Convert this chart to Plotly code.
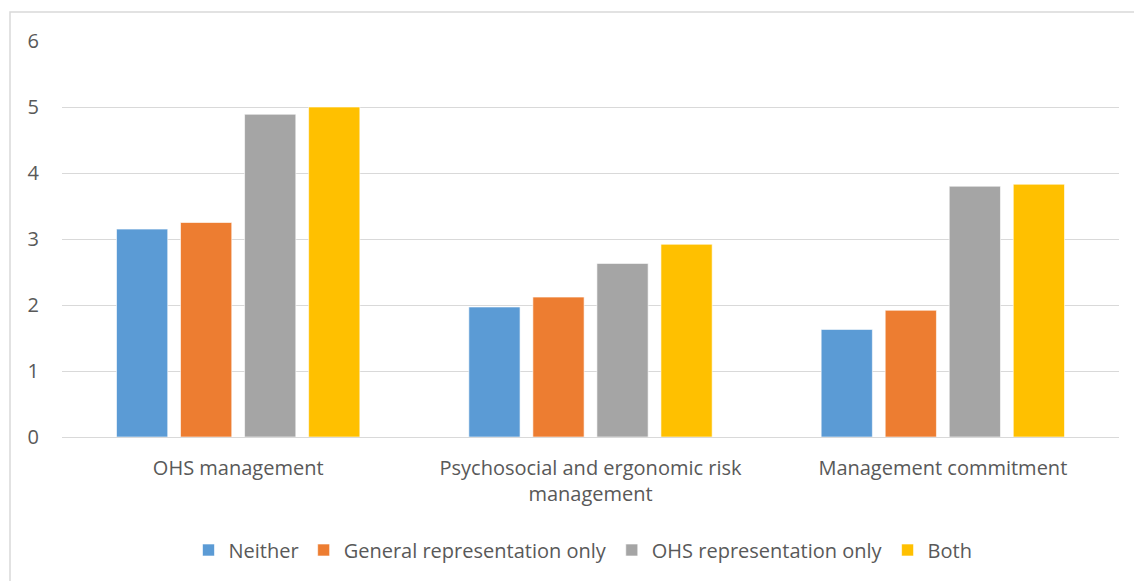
import plotly.graph_objects as go

categories = ["OHS management", "Psychosocial and ergonomic risk<br>management", "Management commitment"]
series_names = ["Neither", "General representation only", "OHS representation only", "Both"]
neither = [3.15, 1.97, 1.63]
general_only = [3.25, 2.12, 1.92]
ohs_only = [4.89, 2.63, 3.80]
both = [5.00, 2.92, 3.83]
colors = ["#5B9BD5", "#ED7D31", "#A5A5A5", "#FFC000"]
y_ticks = [0, 1, 2, 3, 4, 5, 6]

W, H = 1134, 581
ml, mr, mt, mb = 62, 15, 41, 144
pw, ph = W - ml - mr, H - mt - mb

font_family = "Open Sans"
text_color = "#595959"
fs = 20

fig = go.Figure()
for name, vals, col in zip(series_names, [neither, general_only, ohs_only, both], colors):
    fig.add_trace(go.Bar(
        x=categories, y=vals, name=name,
        marker=dict(color=col, line=dict(color="rgba(255,255,255,0.6)", width=1)),
    ))

fig.update_layout(
    width=W, height=H,
    margin=dict(l=ml, r=mr, t=mt, b=mb),
    paper_bgcolor="white", plot_bgcolor="white",
    barmode="group", bargap=0.273, bargroupgap=0.2,
    font=dict(family=font_family, size=fs, color=text_color),
    legend=dict(orientation="h", x=(583 - ml) / pw, xanchor="center", y=(437 - 550) / ph, yanchor="middle",
                font=dict(size=fs, color=text_color), traceorder="normal", itemwidth=30),
    showlegend=True,
)
fig.update_yaxes(range=[0, 6], tickvals=y_ticks, showgrid=True, gridcolor="#D9D9D9", gridwidth=1,
                 zeroline=True, zerolinecolor="#D9D9D9", zerolinewidth=1, showline=False,
                 ticklabelstandoff=22, tickfont=dict(size=fs, color=text_color))
fig.update_xaxes(showline=False, showgrid=False, ticks="", ticklabelstandoff=17,
                 tickfont=dict(size=fs, color=text_color))

# chart frame
fig.add_shape(type="rect", xref="paper", yref="paper",
              x0=(10 - ml) / pw, x1=(W + 20 - ml) / pw,
              y0=-(H + 20 - mt - ph) / ph, y1=1 + (mt - 12) / ph,
              line=dict(color="#D9D9D9", width=1.5), fillcolor="rgba(0,0,0,0)", layer="below")

fig.write_html("out.html")
